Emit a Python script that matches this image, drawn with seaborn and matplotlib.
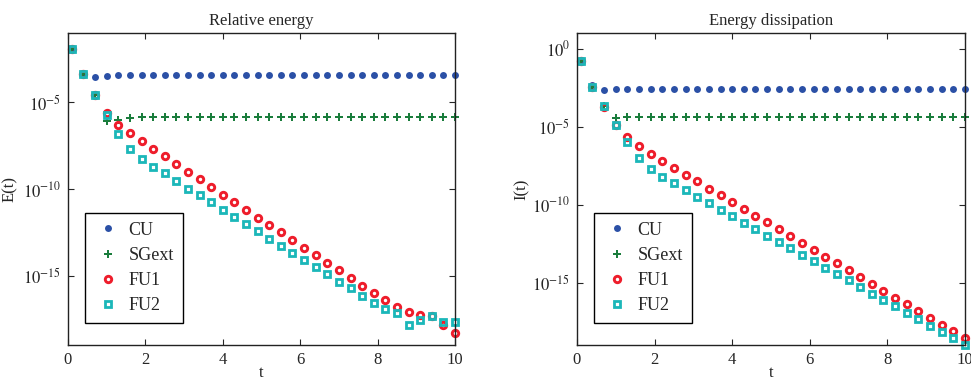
"""
Relative energy and energy dissipation of four schemes (log scale).
"""

import numpy as np
import pandas as pd
import seaborn as sns
import matplotlib
matplotlib.use("Agg")
from matplotlib import pyplot as plt
from matplotlib.ticker import FixedLocator, NullLocator

#############################################################

# time samples
t_values = [0.1, 0.4, 0.7, 1.0, 1.3, 1.6, 1.9, 2.2, 2.5, 2.8,
            3.1, 3.4, 3.7, 4.0, 4.3, 4.6, 4.9, 5.2, 5.5, 5.8,
            6.1, 6.4, 6.7, 7.0, 7.3, 7.6, 7.9, 8.2, 8.5, 8.8,
            9.1, 9.4, 9.7, 10.0]

# log10 of E(t)
cu_energy = [-1.94, -3.38, -3.54, -3.48, -3.44, -3.42, -3.40, -3.40, -3.40, -3.40,
             -3.40, -3.40, -3.40, -3.40, -3.40, -3.40, -3.40, -3.40, -3.40, -3.40,
             -3.40, -3.40, -3.40, -3.40, -3.40, -3.40, -3.40, -3.40, -3.40, -3.40,
             -3.40, -3.40, -3.40, -3.40]
sgext_energy = [-1.94, -3.38, -4.60, -6.10, -6.02, -5.89, -5.83, -5.83, -5.83, -5.83,
                -5.83, -5.83, -5.83, -5.83, -5.83, -5.83, -5.83, -5.83, -5.83, -5.83,
                -5.83, -5.83, -5.83, -5.83, -5.83, -5.83, -5.83, -5.83, -5.83, -5.83,
                -5.83, -5.83, -5.83, -5.83]
fu1_energy = [-1.94, -3.38, -4.60, -5.60, -6.29, -6.79, -7.25, -7.70, -8.12, -8.57,
              -9.00, -9.45, -9.90, -10.32, -10.76, -11.20, -11.65, -12.07, -12.50, -12.96,
              -13.40, -13.83, -14.25, -14.70, -15.13, -15.58, -16.00, -16.43, -16.83, -17.08,
              -17.27, -17.31, -17.85, -18.28]
fu2_energy = [-1.94, -3.38, -4.60, -5.75, -6.85, -7.72, -8.28, -8.72, -9.10, -9.55,
              -9.98, -10.35, -10.75, -11.20, -11.61, -12.03, -12.44, -12.86, -13.27, -13.67,
              -14.10, -14.50, -14.93, -15.34, -15.74, -16.16, -16.55, -16.91, -17.14, -17.85,
              -17.55, -17.35, -17.66, -17.66]

# log10 of I(t)
cu_dissipation = [-0.79, -2.35, -2.65, -2.62, -2.61, -2.61, -2.61, -2.61, -2.61, -2.61,
                  -2.61, -2.61, -2.61, -2.61, -2.61, -2.61, -2.61, -2.61, -2.61, -2.61,
                  -2.61, -2.61, -2.61, -2.61, -2.61, -2.61, -2.61, -2.61, -2.61, -2.61,
                  -2.61, -2.61, -2.61, -2.61]
sgext_dissipation = [-0.79, -2.44, -3.68, -4.42, -4.40, -4.40, -4.40, -4.40, -4.40, -4.40,
                     -4.40, -4.40, -4.40, -4.40, -4.40, -4.40, -4.40, -4.40, -4.40, -4.40,
                     -4.40, -4.40, -4.40, -4.40, -4.40, -4.40, -4.40, -4.40, -4.40, -4.40,
                     -4.40, -4.40, -4.40, -4.40]
fu1_dissipation = [-0.79, -2.44, -3.72, -4.87, -5.67, -6.26, -6.76, -7.22, -7.65, -8.08,
                   -8.50, -8.98, -9.40, -9.83, -10.28, -10.71, -11.13, -11.58, -12.01, -12.46,
                   -12.91, -13.34, -13.76, -14.21, -14.64, -15.09, -15.51, -15.96, -16.39, -16.84,
                   -17.27, -17.69, -18.12, -18.57]
fu2_dissipation = [-0.79, -2.44, -3.70, -4.90, -5.99, -7.03, -7.74, -8.23, -8.63, -9.08,
                   -9.49, -9.92, -10.32, -10.73, -11.15, -11.56, -11.99, -12.40, -12.80, -13.23,
                   -13.63, -14.04, -14.47, -14.85, -15.28, -15.70, -16.11, -16.52, -16.92, -17.35,
                   -17.76, -18.17, -18.57, -18.98]

scheme_names = ["CU", "SGext", "FU1", "FU2"]
panel_titles = ["Relative energy", "Energy dissipation"]
panel_ylabels = ["E(t)", "I(t)"]
x_ticks = [0, 2, 4, 6, 8, 10]
left_yticks = [1e-15, 1e-10, 1e-5]
right_yticks = [1e-15, 1e-10, 1e-5, 1e0]

#############################################################

sns.set_style("ticks")
plt.rcParams["font.family"] = ["Liberation Serif", "DejaVu Serif"]
plt.rcParams["mathtext.fontset"] = "stix"

# marker style per scheme: (marker, color, size, filled, edge width)
styles = {
    "CU": ("o", "#2b50a6", 5.0, True, 0.0),
    "SGext": ("P", "#1a7d3c", 5.8, True, 0.0),
    "FU1": ("o", "#ee1d2b", 4.6, False, 2.1),
    "FU2": ("s", "#1bb7b9", 4.0, False, 2.0),
}


def draw_panel(ax, series, title, ylabel, yticks, ylim, label_x):
    """
    Draw one log-scale panel with the four schemes.
    """
    for name, values in zip(scheme_names, series):
        marker, color, size, filled, mew = styles[name]
        frame = pd.DataFrame({"t": t_values, "value": np.power(10.0, values)})
        kws = dict(marker=marker, linestyle="", markersize=size, clip_on=False)
        if filled:
            kws.update(markerfacecolor=color, markeredgecolor=color, markeredgewidth=0)
        else:
            kws.update(markerfacecolor="none", markeredgecolor=color, markeredgewidth=mew)
        sns.lineplot(data=frame, x="t", y="value", ax=ax, label=name, color=color, **kws)

    ax.set_yscale("log")
    ax.set_xlim(0, 10)
    ax.set_ylim(*ylim)
    ax.xaxis.set_major_locator(FixedLocator(x_ticks))
    ax.set_xticklabels([str(v) for v in x_ticks])
    ax.yaxis.set_major_locator(FixedLocator(yticks))
    ax.yaxis.set_minor_locator(NullLocator())
    ax.set_yticklabels([f"$10^{{{int(round(np.log10(v)))}}}$" for v in yticks])
    ax.tick_params(direction="in", length=4, width=0.8, top=True, right=True,
                   labelsize=12, pad=5)
    for spine in ax.spines.values():
        spine.set_visible(True)
        spine.set_linewidth(1.0)
        spine.set_color("#222222")
    ax.set_title(title, fontsize=12, pad=6)
    ax.set_xlabel("t", fontsize=12, labelpad=-2)
    ax.set_ylabel(ylabel, fontsize=12)
    ax.yaxis.set_label_coords(label_x, 0.5)
    legend = ax.legend(loc="lower left", bbox_to_anchor=(0.044, 0.07), fontsize=13,
                       frameon=True, fancybox=False, framealpha=1, edgecolor="black",
                       handlelength=1.5, handletextpad=0.4, labelspacing=0.45,
                       borderpad=0.5, borderaxespad=0)
    legend.get_frame().set_linewidth(1.0)


fig = plt.figure(figsize=(9.71, 3.81), dpi=100)
ax_left = fig.add_axes([0.070, 0.0945, 0.3986, 0.819])
ax_right = fig.add_axes([0.5942, 0.0945, 0.3996, 0.819])

draw_panel(ax_left, [cu_energy, sgext_energy, fu1_energy, fu2_energy],
           panel_titles[0], panel_ylabels[0], left_yticks, (1e-19, 1e-1), -0.129)
draw_panel(ax_right, [cu_dissipation, sgext_dissipation, fu1_dissipation, fu2_dissipation],
           panel_titles[1], panel_ylabels[1], right_yticks, (1e-19, 1e1), -0.121)

fig.savefig("out.png", dpi=100)
